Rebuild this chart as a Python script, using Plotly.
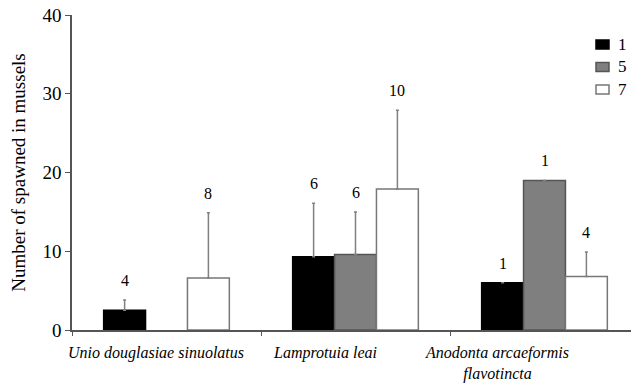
import plotly.graph_objects as go

species = ["<i>Unio douglasiae sinuolatus</i>", "<i>Lamprotuia leai</i>",
           "<i>Anodonta arcaeformis</i><br><i>flavotincta</i>"]
series_names = ["1", "5", "7"]
means_1 = [2.5, 9.3, 6.0]
means_5 = [None, 9.6, 19.0]
means_7 = [6.6, 17.9, 6.8]
err_1 = [1.3, 6.8, None]
err_5 = [None, 5.4, None]
err_7 = [8.3, 10.0, 3.1]
n_1 = ["4", "6", "1"]
n_5 = [None, "6", "1"]
n_7 = ["8", "10", "4"]
y_ticks = [0, 10, 20, 30, 40]

fills = ["#000000", "#7f7f7f", "#ffffff"]
lines = ["#000000", "#555555", "#777777"]
font = "Liberation Serif, Times New Roman, serif"
# horizontal nudges (category units) of the species labels, as set in the original
label_nudge = [-0.058, -0.164, -0.25]

# page body has an 8px margin: figure sized/margined to compensate
W, H = 631, 377
ML, MT, MB, MR = 64, 7, 55, 0

fig = go.Figure()
all_means = [means_1, means_5, means_7]
all_err = [err_1, err_5, err_7]
all_n = [n_1, n_5, n_7]
for name, m, e, fc, lc in zip(series_names, all_means, all_err, fills, lines):
    fig.add_trace(go.Bar(
        x=species, y=m, name=name, showlegend=False,
        marker=dict(color=fc, line=dict(color=lc, width=1.5)),
        error_y=dict(type="data", array=e, arrayminus=[0]*len(e), symmetric=False,
                     color="#808080", thickness=1.5, width=1.5),
    ))

bargap = 0.335
w = (1 - bargap) / 3
for j, (m, e, n) in enumerate(zip(all_means, all_err, all_n)):
    for i in range(len(species)):
        if m[i] is None or n[i] is None:
            continue
        top = m[i] + (e[i] or 0)
        fig.add_annotation(x=i + (j - 1) * w, y=top, text=n[i], showarrow=False,
                           yanchor="bottom", yshift=9,
                           font=dict(family=font, size=16, color="#000"))

for i, s in enumerate(species):
    fig.add_annotation(x=i + label_nudge[i], y=0, yref="paper", text=s, showarrow=False,
                       xanchor="center", yanchor="top", yshift=-12, align="center",
                       font=dict(family=font, size=16, color="#000"))

# custom legend (pixel layout in figure coordinates)
pw, ph = W - ML - MR, H - MT - MB
def px(xp):
    return (xp - ML) / pw
def py(yp):
    return 1 - (yp - MT) / ph
for k, (name, fc, lc) in enumerate(zip(series_names, fills, lines)):
    cy = 36.5 + 22.5 * k
    fig.add_shape(type="rect", xref="paper", yref="paper",
                  x0=px(588), x1=px(601), y0=py(cy - 4.5), y1=py(cy + 4.5),
                  fillcolor=fc, line=dict(color=lc, width=1.5))
    fig.add_annotation(xref="paper", yref="paper", x=px(608), y=py(cy), text=name,
                       showarrow=False, xanchor="left", yanchor="middle",
                       font=dict(family=font, size=17, color="#000"))

fig.update_layout(
    width=W, height=H,
    margin=dict(l=ML, r=MR, t=MT, b=MB, autoexpand=False),
    paper_bgcolor="white", plot_bgcolor="white",
    barmode="group", bargap=bargap, bargroupgap=0,
    font=dict(family=font, size=16, color="#000"),
    showlegend=False,
)
fig.update_xaxes(range=[-0.5, 2.5], showline=True, linecolor="#555555", linewidth=1.5,
                 ticks="outside", tickson="boundaries", ticklen=4, tickcolor="#555555",
                 showgrid=False, showticklabels=False, automargin=False)
fig.update_yaxes(range=[0, 40], tickvals=y_ticks, showline=True, linecolor="#555555",
                 linewidth=1.5, ticks="outside", ticklen=5, tickcolor="#555555",
                 showgrid=False, zeroline=False, tickfont=dict(family=font, size=19),
                 ticklabeloverflow="allow", automargin=False,
                 title=dict(text="Number of spawned in mussels",
                            font=dict(family=font, size=19), standoff=19))

fig.write_html("out.html")
